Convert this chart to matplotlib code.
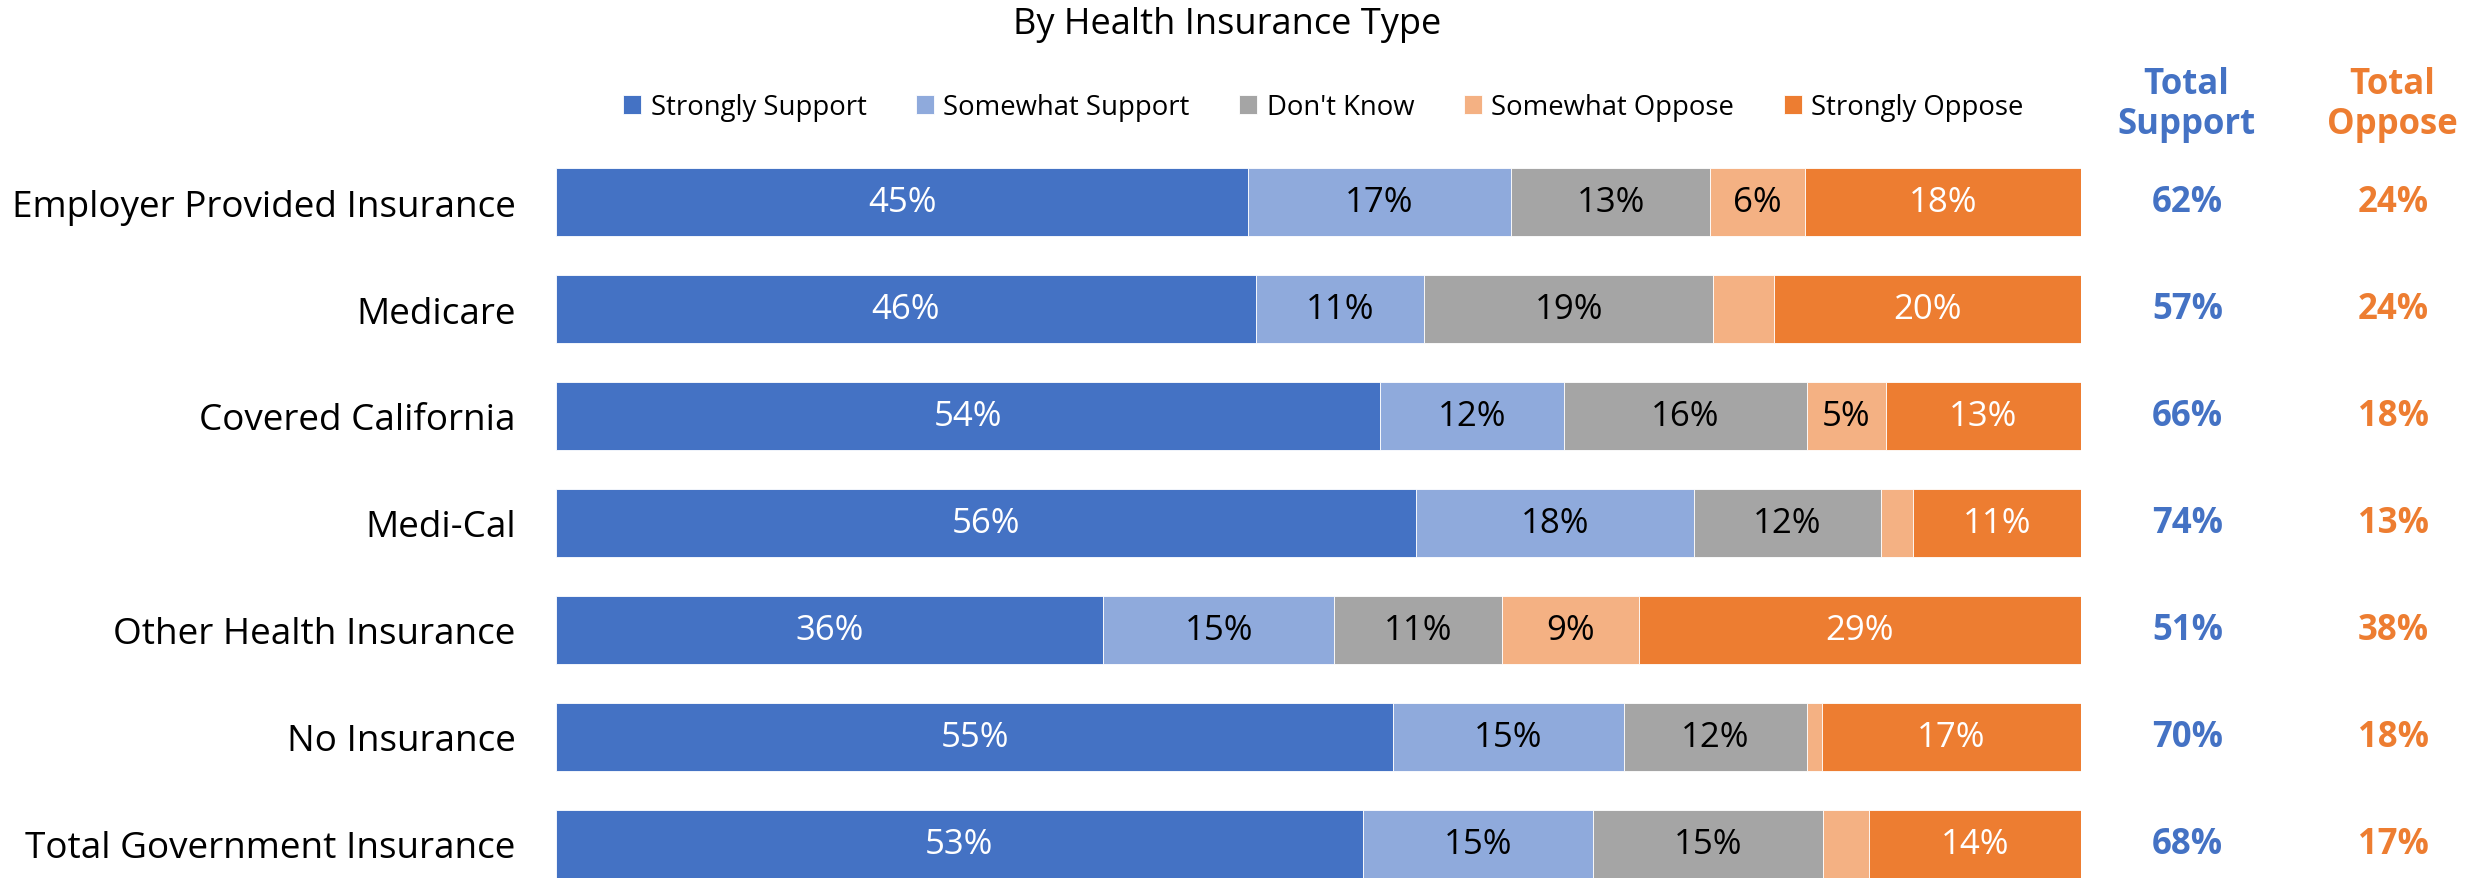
import matplotlib.pyplot as plt
import numpy as np

plt.rcParams['font.family'] = ['Open Sans', 'DejaVu Sans']

# Survey data (percent of respondents)
categories = ['Employer Provided Insurance', 'Medicare', 'Covered California', 'Medi-Cal',
              'Other Health Insurance', 'No Insurance', 'Total Government Insurance']
responses = ['Strongly Support', 'Somewhat Support', "Don't Know", 'Somewhat Oppose', 'Strongly Oppose']

strongly_support = [45.4, 45.9, 54.0, 56.4, 35.9, 54.9, 52.9]
somewhat_support = [17.2, 11.0, 12.1, 18.2, 15.1, 15.1, 15.1]
dont_know = [13.1, 19.0, 15.9, 12.3, 11.0, 12.0, 15.1]
somewhat_oppose = [6.2, 4.0, 5.2, 2.1, 9.0, 1.0, 3.0]
strongly_oppose = [18.1, 20.1, 12.8, 11.0, 29.0, 17.0, 13.9]

total_support = [62, 57, 66, 74, 51, 70, 68]
total_oppose = [24, 24, 18, 13, 38, 18, 17]

colors = ['#4472C4', '#8FAADC', '#A5A5A5', '#F4B183', '#ED7D31']
text_colors = ['white', 'black', 'black', 'black', 'white']

W, H = 2468, 879
fig = plt.figure(figsize=(W / 100, H / 100), dpi=100)
ax = fig.add_axes([556 / W, 0, 1525 / W, 729 / H])

y = np.arange(len(categories))
left = np.zeros(len(categories))
series = [strongly_support, somewhat_support, dont_know, somewhat_oppose, strongly_oppose]

for vals, name, col, tcol in zip(series, responses, colors, text_colors):
    vals = np.array(vals)
    bars = ax.barh(y, vals, left=left, height=0.636, color=col, label=name,
                   edgecolor='white', linewidth=0.6)
    for b, v in zip(bars, vals):
        if v >= 4.5:
            ax.text(b.get_x() + b.get_width() / 2, b.get_y() + b.get_height() / 2,
                    f'{round(v)}%', ha='center', va='center', color=tcol, fontsize=25)
    left += vals

# Total columns on the right
for i in range(len(categories)):
    ax.text(107.0, y[i], f'{total_support[i]}%', ha='center', va='center',
            color=colors[0], fontsize=25, fontweight='bold', clip_on=False)
    ax.text(120.5, y[i], f'{total_oppose[i]}%', ha='center', va='center',
            color=colors[4], fontsize=25, fontweight='bold', clip_on=False)
ax.text(106.9, -0.92, 'Total\nSupport', ha='center', va='center', color=colors[0],
        fontsize=25, fontweight='bold', linespacing=1.15, clip_on=False)
ax.text(120.4, -0.92, 'Total\nOppose', ha='center', va='center', color=colors[4],
        fontsize=25, fontweight='bold', linespacing=1.15, clip_on=False)

ax.set_xlim(0, 100)
ax.set_ylim(6 + 34 / 107, -53 / 107)
ax.set_yticks(y)
ax.set_yticklabels(categories, fontsize=26.6)
ax.tick_params(axis='y', length=0, pad=29)
ax.set_xticks([])
for s in ax.spines.values():
    s.set_visible(False)

fig.text(1227 / W, 1 - 25 / H, 'By Health Insurance Type', ha='center', va='center', fontsize=26)

fig.legend(loc='center left', bbox_to_anchor=(623 / W, 1 - 108 / H), ncol=5, frameon=False,
           fontsize=19.8, handlelength=0.65, handleheight=0.65, handletextpad=0.35,
           columnspacing=1.8, borderpad=0, borderaxespad=0)

fig.savefig('out.png', dpi=100)
